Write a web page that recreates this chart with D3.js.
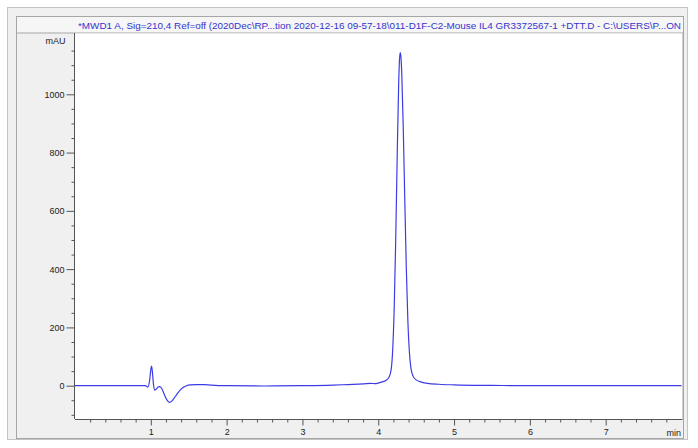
<!DOCTYPE html>
<html>
<head>
<meta charset="utf-8">
<script src="https://cdn.jsdelivr.net/npm/d3@7"></script>
<style>
html,body{margin:0;padding:0;background:#fff;}
svg{display:block;font-family:"Liberation Sans",Arial,sans-serif;}
</style>
</head>
<body>
<svg id="c" width="698" height="448"></svg>
<script>
// ---- data ----
const times = [0, 0.5, 0.9, 0.93, 0.96, 0.985, 1.0, 1.01, 1.02, 1.035, 1.05, 1.07, 1.1, 1.12, 1.14, 1.17, 1.21, 1.245, 1.28, 1.32, 1.37, 1.42, 1.47, 1.52, 1.6, 1.7, 1.8, 2.0, 2.5, 3.0, 3.4, 3.6, 3.8, 3.9, 3.95, 4.0, 4.05, 4.1, 4.14, 4.17, 4.19, 4.21, 4.23, 4.25, 4.27, 4.28, 4.29, 4.30, 4.31, 4.33, 4.35, 4.37, 4.39, 4.41, 4.43, 4.46, 4.5, 4.55, 4.65, 4.8, 5.0, 5.5, 6.0, 6.5, 7.0, 7.5, 8.0];
const mAU   = [0, 0, 0, 0, -5, 20, 55, 67, 50, 5, -15, -12, -4, -3, -8, -25, -48, -57, -52, -38, -20, -7, 0, 3, 4, 4, 2, 0, -1, 0, 2, 4, 6, 8, 7, 9, 13, 18, 28, 55, 120, 262, 495, 788, 1043, 1118, 1143, 1126, 1073, 883, 638, 405, 228, 118, 62, 32, 20, 14, 8, 5, 3, 1, 0, 0, 0, 0, 0];
const xTickValues = [1, 2, 3, 4, 5, 6, 7];
const yTickValues = [0, 200, 400, 600, 800, 1000];
const titleText = "*MWD1 A, Sig=210,4 Ref=off (2020Dec\\RP...tion 2020-12-16 09-57-18\\011-D1F-C2-Mouse IL4 GR3372567-1 +DTT.D - C:\\USERS\\P...ON";
const xUnit = "min";
const yUnit = "mAU";

const svg = d3.select("#c");
const P = {l:75, r:682.5, t:33, b:419};

// frames
svg.append("rect").attr("x",7.5).attr("y",7.5).attr("width",680).attr("height",432)
  .attr("fill","#f0f0f0").attr("stroke","#c4c4c4");
svg.append("rect").attr("x",16.5).attr("y",16.5).attr("width",667).attr("height",422)
  .attr("fill","#f0f0f0").attr("stroke","#a6a6a6");
svg.append("rect").attr("x",16.5).attr("y",16.5).attr("width",667).attr("height",16.5)
  .attr("fill","#f6f6f6").attr("stroke","#a6a6a6");
svg.append("rect").attr("x",P.l).attr("y",P.t+0.5).attr("width",P.r-P.l).attr("height",P.b-P.t-0.5)
  .attr("fill","#fff");
svg.append("line").attr("x1",P.r+0.5).attr("x2",P.r+0.5).attr("y1",P.t).attr("y2",P.b)
  .attr("stroke","#a6a6a6");

// title
svg.append("text").attr("x",78).attr("y",28.5)
  .attr("font-size","9.6px").attr("fill","#3434d0")
  .attr("textLength",603).attr("lengthAdjust","spacingAndGlyphs").text(titleText);

const x = d3.scaleLinear().domain([0,8]).range([75,681.5]);
const y = d3.scaleLinear().domain([-114.3,1210.4]).range([419,33]);

// x axis
const gx = svg.append("g").attr("transform",`translate(0,${P.b+0.5})`);
gx.call(d3.axisBottom(x).tickValues(d3.range(0.2,8.01,0.2).filter(v=>Math.abs(v-Math.round(v))>0.01)).tickSize(3).tickFormat(""));
gx.call(g=>g.select(".domain").remove());
const gx2 = svg.append("g").attr("transform",`translate(0,${P.b+0.5})`);
gx2.call(d3.axisBottom(x).tickValues(xTickValues).tickSize(6).tickPadding(3).tickFormat(d3.format("d")));
gx2.select(".domain").attr("stroke","#555").attr("d",`M${P.l},0H${P.r}`);
[gx,gx2].forEach(g=>{g.selectAll("line").attr("stroke","#555");
  g.selectAll("text").attr("font-size","9px").attr("fill","#222").attr("font-family","Liberation Sans, Arial, sans-serif");});
svg.append("text").attr("x",681).attr("y",436).attr("text-anchor","end")
  .attr("font-size","9px").attr("fill","#222").text(xUnit);

// y axis
const gy = svg.append("g").attr("transform",`translate(${P.l-0.5},0)`);
gy.call(d3.axisLeft(y).tickValues(d3.range(-100,1151,50).filter(v=>v%200!==0)).tickSize(3).tickFormat(""));
gy.call(g=>g.select(".domain").remove());
const gy2 = svg.append("g").attr("transform",`translate(${P.l-0.5},0)`);
gy2.call(d3.axisLeft(y).tickValues(yTickValues).tickSize(8).tickPadding(2).tickFormat(d3.format("d")));
gy2.select(".domain").attr("stroke","#555").attr("d",`M0,${P.t}V${P.b}`);
[gy,gy2].forEach(g=>{g.selectAll("line").attr("stroke","#555");
  g.selectAll("text").attr("font-size","9px").attr("fill","#222").attr("font-family","Liberation Sans, Arial, sans-serif");});
svg.append("text").attr("x",65.5).attr("y",44).attr("text-anchor","end")
  .attr("font-size","9px").attr("fill","#222").text(yUnit);

// trace
const pts = times.map((t,i)=>[t,mAU[i]]);
svg.append("path").datum(pts)
  .attr("fill","none").attr("stroke","#3c3ce6").attr("stroke-width",1.2)
  .attr("d",d3.line().x(d=>x(d[0])).y(d=>y(d[1])).curve(d3.curveMonotoneX));
</script>
</body>
</html>
